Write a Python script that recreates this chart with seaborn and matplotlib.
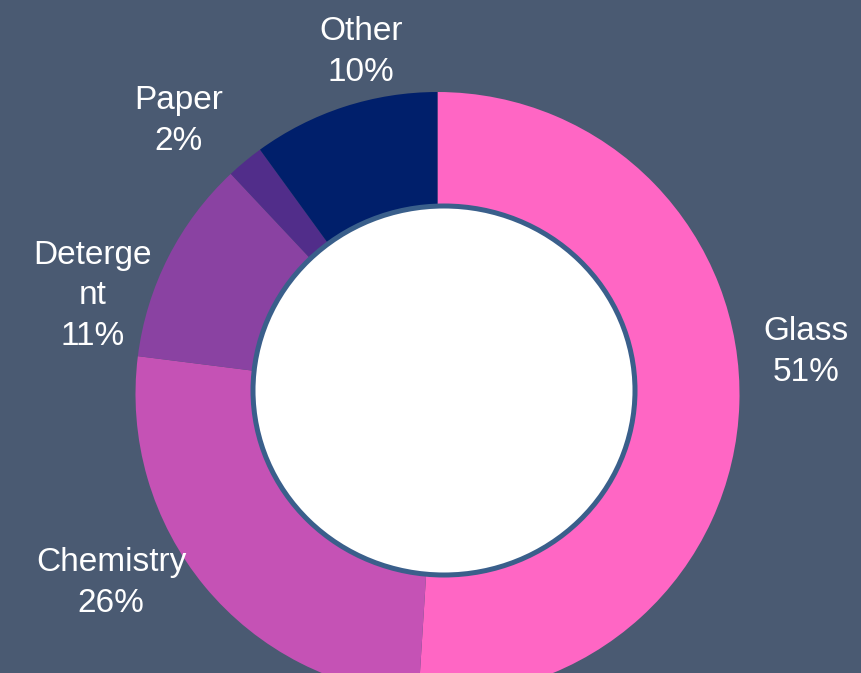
import numpy as np
import pandas as pd
import seaborn as sns
import matplotlib
matplotlib.use('Agg')
import matplotlib.pyplot as plt
from matplotlib.patches import Ellipse

# data
categories = ['Glass', 'Chemistry', 'Detergent', 'Paper', 'Other']
shares = [51, 26, 11, 2, 10]
label_text = ['Glass\n51%', 'Chemistry\n26%', 'Deterge\nnt\n11%', 'Paper\n2%', 'Other\n10%']

# styling / layout
colors = ['#FF66C4', '#C552B5', '#8A42A2', '#512D8A', '#001F6B']
bg_color = '#4A5A72'
ring_edge = '#3A5F8B'
W, H = 861, 673
cx, cy, R = 437.5, H - 394, 302
# label centres in pixels (x, y from top), Excel-style placement
label_pos = [(806, 352), (111, 583), (93, 296), (179, 121), (361, 52)]

sns.set_style('white')
plt.rcParams['font.family'] = ['Liberation Sans', 'DejaVu Sans']

df = pd.DataFrame({'category': categories, 'share': shares})

fig = plt.figure(figsize=(W / 100, H / 100), dpi=100)
fig.patch.set_facecolor(bg_color)
ax = fig.add_axes([0, 0, 1, 1])
ax.set_facecolor(bg_color)

ax.pie(df['share'], colors=sns.color_palette(colors), startangle=90, counterclock=False,
       center=(cx, cy), radius=R, wedgeprops=dict(linewidth=0))

hole = Ellipse((444, H - 390.5), 382, 369, facecolor='white', edgecolor=ring_edge,
               linewidth=3.6, zorder=5)
ax.add_patch(hole)

for txt, (px, py) in zip(label_text, label_pos):
    ax.text(px, H - py, txt, color='white', fontsize=24, ha='center', va='center',
            linespacing=1.38)

ax.set_xlim(0, W)
ax.set_ylim(0, H)
ax.set_aspect('equal')
ax.axis('off')

fig.savefig('out.png', dpi=100, facecolor=bg_color)
